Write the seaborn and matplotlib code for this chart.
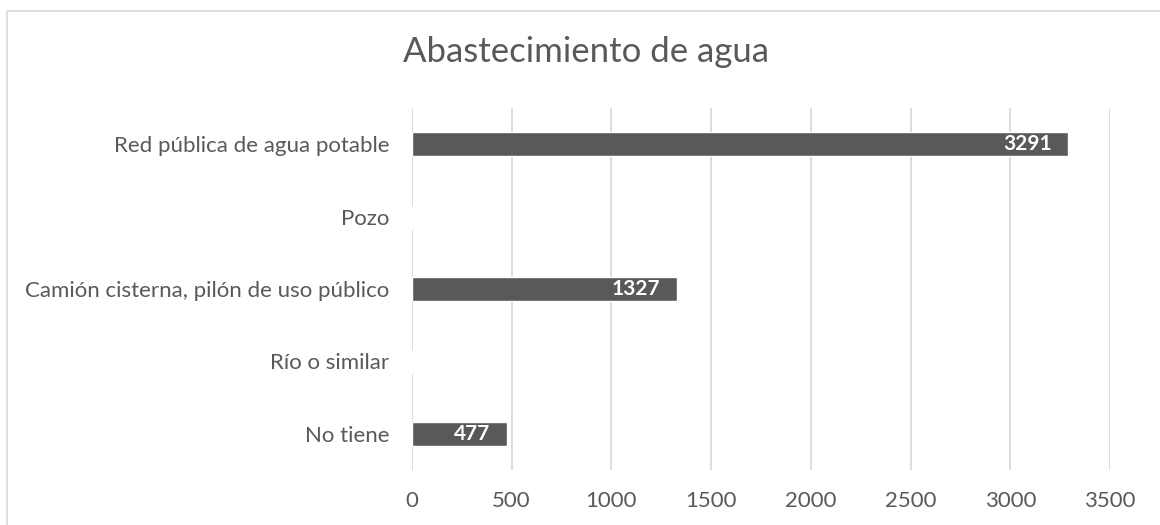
import matplotlib
matplotlib.use("Agg")
import matplotlib.pyplot as plt
import seaborn as sns
import pandas as pd
from matplotlib.patches import Rectangle

categorias = [
    "Red pública de agua potable",
    "Pozo",
    "Camión cisterna, pilón de uso público",
    "Río o similar",
    "No tiene",
]
viviendas = [3291, 0, 1327, 0, 477]
ticks_x = [0, 500, 1000, 1500, 2000, 2500, 3000, 3500]

gris = "#595959"

sns.set_theme(style="white")
plt.rcParams["font.family"] = ["Lato", "DejaVu Sans"]

df = pd.DataFrame({"categoria": categorias, "valor": viviendas})

fig = plt.figure(figsize=(11.6, 5.25), dpi=100)
ax = fig.add_axes([0.355, 0.105, 0.602, 0.689])

sns.barplot(data=df, x="valor", y="categoria", orient="h", color=gris,
            saturation=1, width=0.33, ax=ax)

ax.set_xlim(0, 3500)
ax.set_xticks(ticks_x)
ax.set_xticklabels([str(t) for t in ticks_x])
ax.grid(axis="x", color="#d9d9d9", linewidth=1.3)
ax.set_axisbelow(True)
for s in ax.spines.values():
    s.set_visible(False)
ax.tick_params(axis="both", length=0, labelsize=16, colors=gris)
ax.tick_params(axis="y", pad=16)
ax.tick_params(axis="x", pad=15)
ax.set_xlabel("")
ax.set_ylabel("")

# etiquetas de datos dentro del extremo de la barra
for i, v in enumerate(viviendas):
    if v > 0:
        ax.annotate(str(v), xy=(v, i), xytext=(-12, 0), textcoords="offset points",
                    ha="right", va="center", color="white", fontsize=15,
                    fontweight="bold")

fig.text(0.505, 0.9, "Abastecimiento de agua", ha="center", va="center",
         fontsize=25, color=gris)

# marco del gráfico
fig.patches.append(Rectangle((0.006, -0.1), 1.2, 1.08, transform=fig.transFigure,
                             fill=False, edgecolor="#d9d9d9", linewidth=1.2))

fig.savefig("out.png", dpi=100)
